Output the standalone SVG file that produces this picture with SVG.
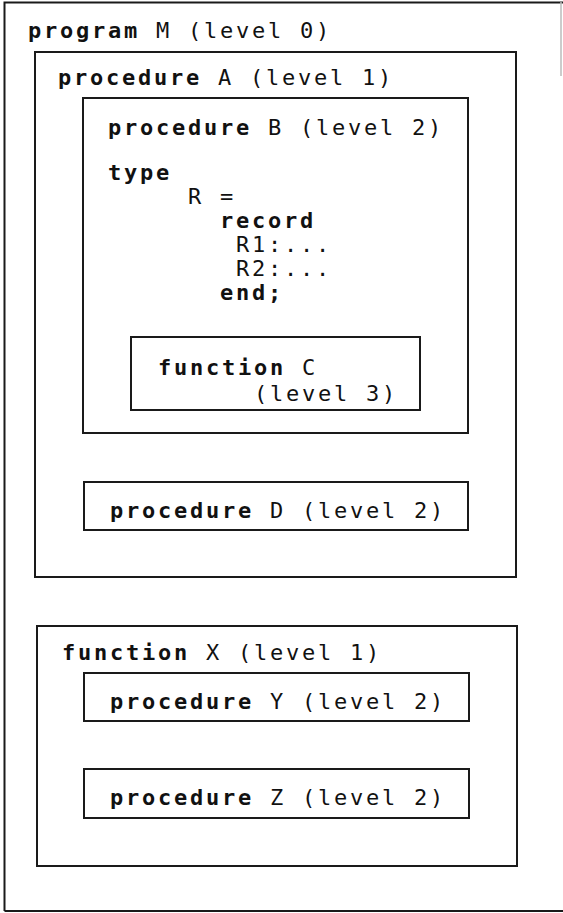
<svg xmlns="http://www.w3.org/2000/svg" width="563" height="913" viewBox="0 0 563 913">
<style>
.box{fill:none;stroke:#1a1a1a;stroke-width:2}
text{font-family:"DejaVu Sans Mono","Liberation Mono",monospace;font-size:22px;letter-spacing:2.75px;fill:#111}
.kw{font-weight:bold}
</style>
<rect width="563" height="913" fill="#fff"/>
<g id="programM">
<path d="M4.5,911 L4.5,2.5 L563,2.5 M4.5,911 L563,911" class="box"/>
<line x1="561" y1="2" x2="561" y2="76" stroke="#bbb" stroke-width="1.5"/>
<text x="28" y="38"><tspan class="kw">program</tspan> M (level 0)</text>
</g>
<g id="procedureA">
<rect x="35" y="52" width="481" height="525" class="box"/>
<text x="58" y="85"><tspan class="kw">procedure</tspan> A (level 1)</text>
</g>
<g id="procedureB">
<rect x="83" y="98" width="385" height="335" class="box"/>
<text x="108" y="135"><tspan class="kw">procedure</tspan> B (level 2)</text>
<text x="108" y="180" class="kw">type</text>
<text x="188" y="204">R =</text>
<text x="220" y="228" class="kw">record</text>
<text x="236" y="252">R1:...</text>
<text x="236" y="276">R2:...</text>
<text x="220" y="300" class="kw">end;</text>
</g>
<g id="functionC">
<rect x="131" y="337" width="289" height="73" class="box"/>
<text x="158" y="375"><tspan class="kw">function</tspan> C</text>
<text x="254" y="401">(level 3)</text>
</g>
<g id="procedureD">
<rect x="84" y="482" width="384" height="48" class="box"/>
<text x="110" y="518"><tspan class="kw">procedure</tspan> D (level 2)</text>
</g>
<g id="functionX">
<rect x="37" y="626" width="480" height="240" class="box"/>
<text x="62" y="660"><tspan class="kw">function</tspan> X (level 1)</text>
</g>
<g id="procedureY">
<rect x="84" y="673" width="385" height="48" class="box"/>
<text x="110" y="709"><tspan class="kw">procedure</tspan> Y (level 2)</text>
</g>
<g id="procedureZ">
<rect x="84" y="769" width="385" height="49" class="box"/>
<text x="110" y="805"><tspan class="kw">procedure</tspan> Z (level 2)</text>
</g>
<g id="connectors"/>
</svg>
